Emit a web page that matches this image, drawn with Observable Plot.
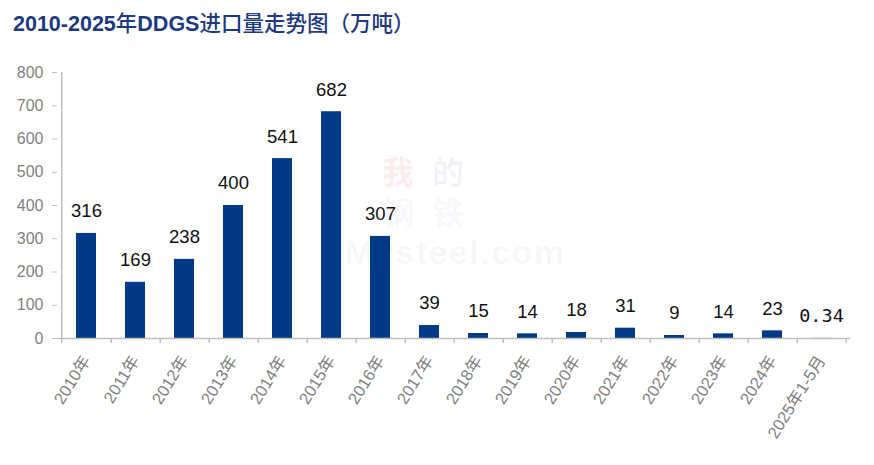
<!DOCTYPE html>
<html>
<head>
<meta charset="utf-8">
<script src="https://cdn.jsdelivr.net/npm/d3@7"></script>
<script src="https://cdn.jsdelivr.net/npm/@observablehq/plot@0.6"></script>
<style>
  html, body { margin: 0; padding: 0; background: #fff; }
  #wrap { position: relative; width: 874px; height: 465px; overflow: hidden; }
  #title { position: absolute; left: 13px; top: 11px; font-size: 21.5px; line-height: 1; font-weight: bold; color: #1d3a80;
           font-family: "Liberation Sans", "Noto Sans CJK SC", sans-serif; white-space: nowrap; z-index: 2; }
  #title .cn { font-family: "Noto Sans CJK SC", sans-serif; font-weight: 500; }
  #wm { position: absolute; left: 345px; top: 153px; z-index: 0; line-height: 34px; font-weight: bold;
        font-family: "Noto Sans CJK SC", sans-serif; white-space: nowrap; }
  #wm .cj { display: inline-block; width: 50px; font-size: 32px; }
  #wm .en { font-family: "Liberation Sans", sans-serif; font-size: 34px; letter-spacing: 1.5px; color: rgba(0,0,0,0.045); }
  #chart { position: absolute; left: 0; top: 0; z-index: 1; }
</style>
</head>
<body>
<div id="wrap">
  <div id="title">2010-2025<span class="cn">年</span>DDGS<span class="cn">进口量走势图（万吨）</span></div>
  <div id="wm"><span style="display:inline-block;width:37px"></span><span class="cj" style="color:rgba(230,60,60,0.09)">我</span><span class="cj" style="color:rgba(40,60,160,0.06)">的</span><br><span style="display:inline-block;width:37px"></span><span class="cj" style="color:rgba(40,60,160,0.05)">钢</span><span class="cj" style="color:rgba(40,60,160,0.05)">铁</span><br><span class="en">Mysteel.com</span></div>
  <div id="chart"></div>
</div>
<script>
const categories = ["2010年","2011年","2012年","2013年","2014年","2015年","2016年","2017年","2018年","2019年","2020年","2021年","2022年","2023年","2024年","2025年1-5月"];
const values = [316,169,238,400,541,682,307,39,15,14,18,31,9,14,23,0.34];
const valueLabels = ["316","169","238","400","541","682","307","39","15","14","18","31","9","14","23","0.34"];
const yTicks = [0,100,200,300,400,500,600,700,800];

const data = categories.map((c, i) => ({cat: c, value: values[i], label: valueLabels[i], last: i === categories.length - 1}));

const W = 874, H = 465, mL = 57, mR = 24, mT = 72, mB = 127;
const step = (W - mL - mR) / categories.length;
const frameH = H - mT - mB;
const axisGray = "#bfbfbf", textGray = "#7f7f7f", barColor = "#023a87";

const plot = Plot.plot({
  width: W, height: H,
  marginLeft: mL, marginRight: mR, marginTop: mT, marginBottom: mB,
  style: {fontFamily: "'Liberation Sans', 'Noto Sans CJK SC', sans-serif", background: "transparent", overflow: "visible"},
  x: {type: "band", domain: categories, paddingInner: 0.6, paddingOuter: 0.3, label: null},
  y: {domain: [0, 800], label: null},
  marks: [
    Plot.barY(data, {x: "cat", y: "value", fill: barColor}),
    Plot.ruleX([categories[0]], {x: d => d, dx: -step / 2, stroke: axisGray, strokeWidth: 1.5, insetBottom: -5}),
    Plot.ruleY([0], {stroke: axisGray, strokeWidth: 1.5}),
    Plot.ruleX(categories, {x: d => d, dx: step / 2, dy: 5, insetTop: frameH - 5, stroke: axisGray, strokeWidth: 1.5}),
    Plot.axisY({ticks: yTicks, tickSize: 5, tickPadding: 9, stroke: axisGray, fill: textGray, fontSize: 16, tickFormat: d3.format("d")}),
    Plot.axisX({tickSize: 0, tickPadding: 19, tickRotate: -58, fill: textGray, fontSize: 16.5}),
    Plot.text(data.filter(d => !d.last), {x: "cat", y: "value", text: "label", dy: -22, fontSize: 18.5, fill: "#111"}),
    Plot.text(data.filter(d => d.last), {x: "cat", y: "value", text: "label", dy: -22, fontSize: 18.5, fill: "#111", fontFamily: "'DejaVu Sans Mono', monospace"})
  ]
});
document.getElementById("chart").appendChild(plot);
</script>
</body>
</html>
